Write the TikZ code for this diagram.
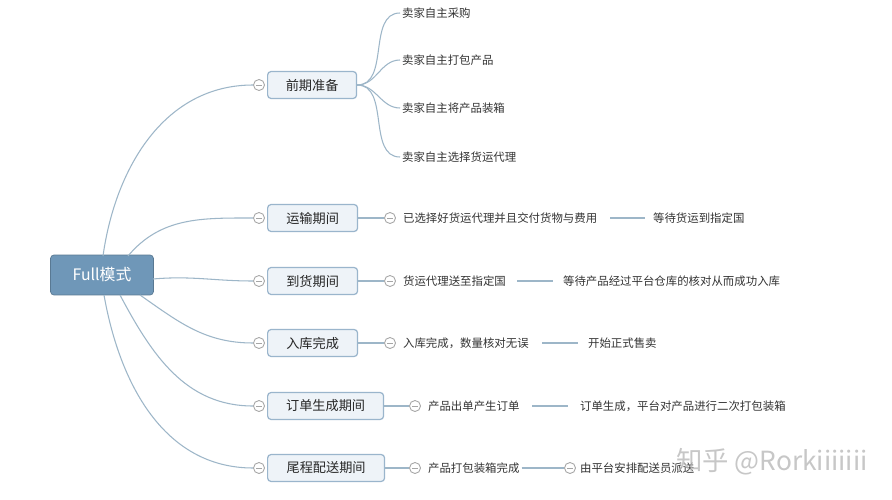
\documentclass[tikz,border=0pt]{standalone}
\usepackage{fontspec}
\setmainfont{Noto Sans CJK SC}
\begin{document}
\begin{tikzpicture}[x=0.02cm,y=-0.02cm,
  line/.style={draw=lk,line width=0.6pt},
  br/.style={draw=bb,fill=bf,rounded corners=2pt,line width=0.7pt,minimum height=0.54cm,inner xsep=5pt,font=\fontsize{7.5}{9}\selectfont,text=black!85},
  col/.style={circle,draw=gray!70,fill=white,inner sep=0pt,minimum size=0.22cm,line width=0.5pt},
  lf/.style={anchor=west,inner sep=1pt,font=\fontsize{6.5}{8}\selectfont,text=black!80}]
\definecolor{lk}{HTML}{9DB6C8}\definecolor{bb}{HTML}{9AB5CC}\definecolor{bf}{HTML}{EEF3F8}
\definecolor{rt}{HTML}{6F97B8}
\useasboundingbox (0,0) rectangle (892,500);
\fill[white] (0,0) rectangle (892,500);
\node[fill=rt,draw=rt!80!black,rounded corners=2pt,minimum width=2.06cm,minimum height=0.8cm,text=white,font=\fontsize{9}{11}\selectfont] (root) at (102,275) {Full模式};
% branches
\foreach \n/\t/\y/\w in {a/前期准备/85/1.78,b/运输期间/218/1.8,c/到货期间/281/1.8,d/入库完成/343/1.8,e/订单生成期间/406/2.32,f/尾程配送期间/468/2.34}{
  \node[br,minimum width=\w cm,anchor=west] (\n) at (267,\y) {\t};
  \node[col] (\n c) at (259,\y) {};
  \draw[gray!70,line width=0.5pt] ([xshift=-0.06cm]\n c.center) -- ([xshift=0.06cm]\n c.center);
}
\coordinate (ra) at (103,256);\coordinate (rb) at (128,256);\coordinate (rc) at (153,279);
\coordinate (rd) at (140,295);\coordinate (re) at (120,295);\coordinate (rf) at (104,295);
\draw[line] (ra) to[out=82,in=180] (ac.west);
\draw[line] (rb) to[out=50,in=180] (bc.west);
\draw[line] (rc) to[out=5,in=180] (cc.west);
\draw[line] (rd) to[out=-35,in=180] (dc.west);
\draw[line] (re) to[out=-62,in=180] (ec.west);
\draw[line] (rf) to[out=-80,in=180] (fc.west);
% leaves of a
\foreach \n/\t/\y in {a1/卖家自主采购/13,a2/卖家自主打包产品/60,a3/卖家自主将产品装箱/108,a4/卖家自主选择货运代理/157}{
  \node[lf] (\n) at (400,\y) {\t};
  \draw[line] (a.east) to[out=0,in=180] (\n.west);
}
% rows
\newcommand\rowtwo[8]{% name, y, circx, text1, x2, text2, linefrom, lineto
  \node[col] (#1c) at (#3,#2) {};
  \draw[gray!70,line width=0.5pt] ([xshift=-0.06cm]#1c.center) -- ([xshift=0.06cm]#1c.center);
  \draw[line] (#1.east) -- (#1c.west);
  \node[lf] (#1t) at (#3+11,#2) {#4};
  \coordinate (#1p) at (#7,#2);\coordinate (#1q) at (#8,#2);
  \draw[line] (#1p) -- (#1q);
  \node[lf] (#1u) at (#5,#2) {#6};}
\rowtwo{b}{218}{390}{已选择好货运代理并且交付货物与费用}{651}{等待货运到指定国}{610}{645}
\rowtwo{c}{281}{390}{货运代理送至指定国}{561}{等待产品经过平台仓库的核对从而成功入库}{517}{553}
\rowtwo{d}{343}{390}{入库完成，数量核对无误}{586}{开始正式售卖}{542}{578}
\rowtwo{e}{406}{415}{产品出单产生订单}{578}{订单生成，平台对产品进行二次打包装箱}{532}{568}
\node[col] (fc) at (415,468) {};
\draw[gray!70,line width=0.5pt] ([xshift=-0.06cm]fc.center) -- ([xshift=0.06cm]fc.center);
\draw[line] (f.east) -- (fc.west);
\node[lf] (ft) at (426,468) {产品打包装箱完成};
\node[col] (fd) at (570,468) {};
\draw[gray!70,line width=0.5pt] ([xshift=-0.06cm]fd.center) -- ([xshift=0.06cm]fd.center);
\draw[line] (ft.east) -- (fd.west);
\node[lf] (fu) at (578,468) {由平台安排配送员派送};
\node[anchor=west,text=gray!55,font=\fontsize{15}{17}\selectfont,opacity=0.8] (wm) at (670,462) {知乎 @Rorkiiiiiii};
\end{tikzpicture}
\end{document}
